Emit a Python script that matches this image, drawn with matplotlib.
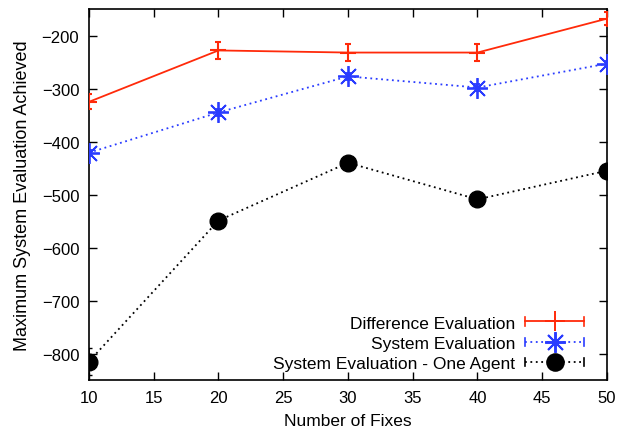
import matplotlib
matplotlib.use("Agg")
import matplotlib.pyplot as plt
from matplotlib.legend_handler import HandlerBase
from matplotlib.lines import Line2D

plt.rcParams['font.family'] = ['Liberation Sans', 'DejaVu Sans']

fixes = [10, 20, 30, 40, 50]
diff_eval = [-325, -228, -232, -232, -168]
diff_err = [14, 16, 16, 16, 12]
sys_eval = [-421, -345, -277, -298, -253]
sys_err = [6, 6, 6, 6, 6]
one_agent = [-815, -549, -440, -509, -455]
one_err = [25, 6, 6, 6, 6]

labels = ["Difference Evaluation", "System Evaluation", "System Evaluation - One Agent"]
RED = '#ff2a0a'
BLUE = '#2a3cff'
DOT = (0, (1, 2))

fig = plt.figure(figsize=(6.2, 4.39), dpi=100)
ax = fig.add_axes([0.1435, 0.132, 0.8355, 0.845])

ax.errorbar(fixes, diff_eval, yerr=diff_err, color=RED, lw=1.3, marker='+', ms=11, mew=1.5,
            capsize=2, elinewidth=1.3, zorder=3)
ax.errorbar(fixes, sys_eval, yerr=sys_err, color=BLUE, lw=1.3, ls=DOT, marker=(8, 2, 0), ms=15, mew=1.3,
            capsize=2, elinewidth=1.2, zorder=3)
ax.errorbar(fixes, one_agent, yerr=one_err, color='black', lw=1.3, ls=DOT, marker='o', ms=12,
            capsize=2, elinewidth=1.2, zorder=3)

ax.set_xlim(10, 50)
ax.set_ylim(-850, -150)
ax.set_xticks(range(10, 51, 5))
ax.set_yticks(range(-800, -199, 100))
ax.tick_params(direction='in', top=True, right=True, length=6, width=1, labelsize=12, pad=7)
for s in ax.spines.values():
    s.set_linewidth(1.2)
ax.set_xlabel("Number of Fixes", fontsize=12.5, labelpad=6)
ax.set_ylabel("Maximum System Evaluation Achieved", fontsize=13, labelpad=8)


class HandlerCapLine(HandlerBase):
    def __init__(self, color, ls, marker, ms, **kw):
        super().__init__(**kw)
        self.color, self.ls, self.marker, self.ms = color, ls, marker, ms

    def create_artists(self, legend, orig_handle, xdescent, ydescent, width, height, fontsize, trans):
        y = height / 2 - ydescent
        x0, x1 = -xdescent, -xdescent + width
        line = Line2D([x0, x1], [y, y], color=self.color, ls=self.ls, lw=1.3, transform=trans)
        c1 = Line2D([x0, x0], [y - 3, y + 3], color=self.color, lw=1.2, transform=trans)
        c2 = Line2D([x1, x1], [y - 3, y + 3], color=self.color, lw=1.2, transform=trans)
        mk = Line2D([(x0 + x1) / 2], [y], color=self.color, marker=self.marker, ms=self.ms, mew=1.4,
                    ls='none', transform=trans)
        return [line, c1, c2, mk]


h1 = Line2D([], [])
h2 = Line2D([], [])
h3 = Line2D([], [])
leg = ax.legend([h1, h2, h3], labels, loc='lower right', frameon=False, markerfirst=False,
                fontsize=12.5, handlelength=3.4, handletextpad=0.6, labelspacing=0.3,
                borderaxespad=0.0, bbox_to_anchor=(0.97, 0.005),
                handler_map={h1: HandlerCapLine(RED, '-', '+', 14),
                             h2: HandlerCapLine(BLUE, DOT, (8, 2, 0), 15),
                             h3: HandlerCapLine('black', DOT, 'o', 12)})

fig.savefig("out.png", dpi=100)
